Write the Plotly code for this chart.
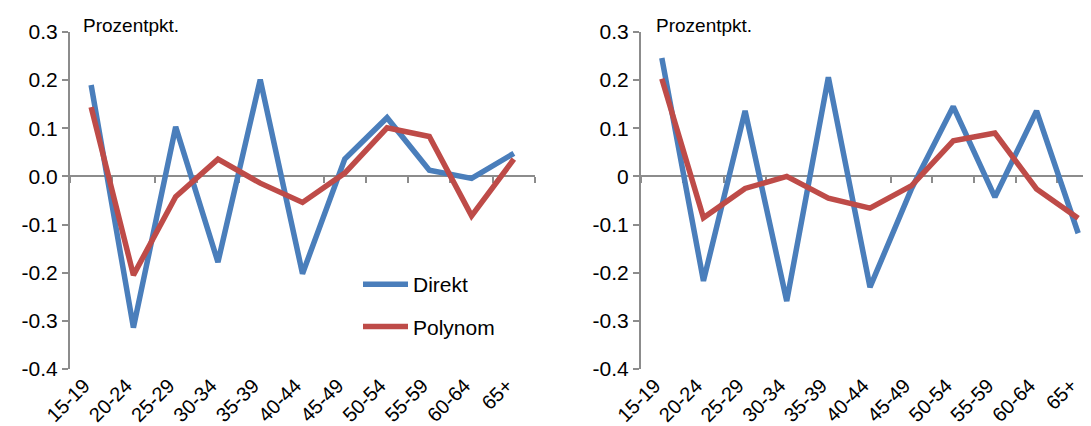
import plotly.graph_objects as go

# Altersgruppen
categories = ["15-19", "20-24", "25-29", "30-34", "35-39", "40-44",
              "45-49", "50-54", "55-59", "60-64", "65+"]

# linkes Panel
left_direkt = [0.19, -0.314, 0.103, -0.178, 0.201, -0.202, 0.036, 0.122, 0.013, -0.004, 0.048]
left_polynom = [0.144, -0.205, -0.042, 0.036, -0.014, -0.054, 0.007, 0.101, 0.083, -0.082, 0.036]

# rechtes Panel
right_direkt = [0.246, -0.217, 0.136, -0.259, 0.206, -0.23, -0.025, 0.145, -0.043, 0.136, -0.118]
right_polynom = [0.203, -0.086, -0.025, 0.0, -0.045, -0.066, -0.019, 0.074, 0.090, -0.026, -0.087]

y_ticks = [-0.4, -0.3, -0.2, -0.1, 0.0, 0.1, 0.2, 0.3]
left_ticktext = ["-0.4", "-0.3", "-0.2", "-0.1", "0.0", "0.1", "0.2", "0.3"]
right_ticktext = ["-0.4", "-0.3", "-0.2", "-0.1", "0", "0.1", "0.2", "0.3"]

BLUE = "#4A7EBB"
RED = "#BE4B48"
AXIS = "#8C8C8C"
FONT = "Arial, Liberation Sans, sans-serif"

W, H = 1091, 426
y_dom = [1 - 361 / H, 1 - 24 / H]
y_min, y_max = -0.4, 0.3
zero_pos = y_dom[0] + (0 - y_min) / (y_max - y_min) * (y_dom[1] - y_dom[0])

fig = go.Figure()

panels = [
    ("x", "y", "x3", left_direkt, left_polynom, True),
    ("x2", "y2", "x4", right_direkt, right_polynom, False),
]
for xa, ya, xz, direkt, polynom, legend in panels:
    # unsichtbare Hilfsspur für die Nulllinie mit Teilstrichen
    fig.add_trace(go.Scatter(x=categories, y=polynom, xaxis=xz, yaxis=ya, mode="lines",
                             line=dict(width=0), opacity=0, hoverinfo="skip", showlegend=False))
    fig.add_trace(go.Scatter(x=categories, y=direkt, xaxis=xa, yaxis=ya, mode="lines",
                             name="Direkt", line=dict(color=BLUE, width=5.5),
                             legendgroup="d", showlegend=legend))
    fig.add_trace(go.Scatter(x=categories, y=polynom, xaxis=xa, yaxis=ya, mode="lines",
                             name="Polynom", line=dict(color=RED, width=5.5),
                             legendgroup="p", showlegend=legend))

label_axis = dict(showline=False, ticks="", tickangle=-45, showgrid=False, zeroline=False,
                  range=[-0.5, 10.5], tickfont=dict(size=20, color="black"), automargin=False,
                  ticklabelshift=-7)
zero_axis = dict(anchor="free", position=zero_pos, showline=True, linecolor=AXIS, linewidth=2,
                 ticks="outside", ticklen=6, tickwidth=2, tickcolor=AXIS, tickson="boundaries",
                 showticklabels=False, showgrid=False, zeroline=False, range=[-0.5, 10.5],
                 layer="below traces", automargin=False)
y_axis = dict(range=[y_min, y_max], domain=y_dom, showline=True, linecolor=AXIS, linewidth=2,
              ticks="outside", ticklen=6, tickwidth=2, tickcolor=AXIS, showgrid=False,
              zeroline=False, tickvals=y_ticks, tickfont=dict(size=21, color="black"),
              layer="below traces", automargin=False)

fig.update_layout(
    width=W, height=H,
    margin=dict(l=0, r=0, t=0, b=0, autoexpand=False),
    paper_bgcolor="white", plot_bgcolor="white",
    font=dict(family=FONT, size=21, color="black"),
    xaxis=dict(label_axis, domain=[62 / W, 527 / W], anchor="y"),
    xaxis2=dict(label_axis, domain=[633 / W, 1.0], anchor="y2"),
    xaxis3=dict(zero_axis, overlaying="x"),
    xaxis4=dict(zero_axis, overlaying="x2"),
    yaxis=dict(y_axis, anchor="x", ticktext=left_ticktext),
    yaxis2=dict(y_axis, anchor="x2", ticktext=right_ticktext),
    legend=dict(x=350 / W, y=1 - 256 / H, xanchor="left", yanchor="top",
                bgcolor="rgba(0,0,0,0)", font=dict(size=21), itemwidth=45,
                traceorder="grouped", tracegroupgap=12),
    showlegend=True,
    annotations=[
        dict(text="Prozentpkt.", x=73 / W, y=1 - 18 / H, xref="paper", yref="paper",
             xanchor="left", yanchor="middle", showarrow=False, font=dict(size=19)),
        dict(text="Prozentpkt.", x=646 / W, y=1 - 18 / H, xref="paper", yref="paper",
             xanchor="left", yanchor="middle", showarrow=False, font=dict(size=19)),
    ],
)

fig.write_html("out.html")
